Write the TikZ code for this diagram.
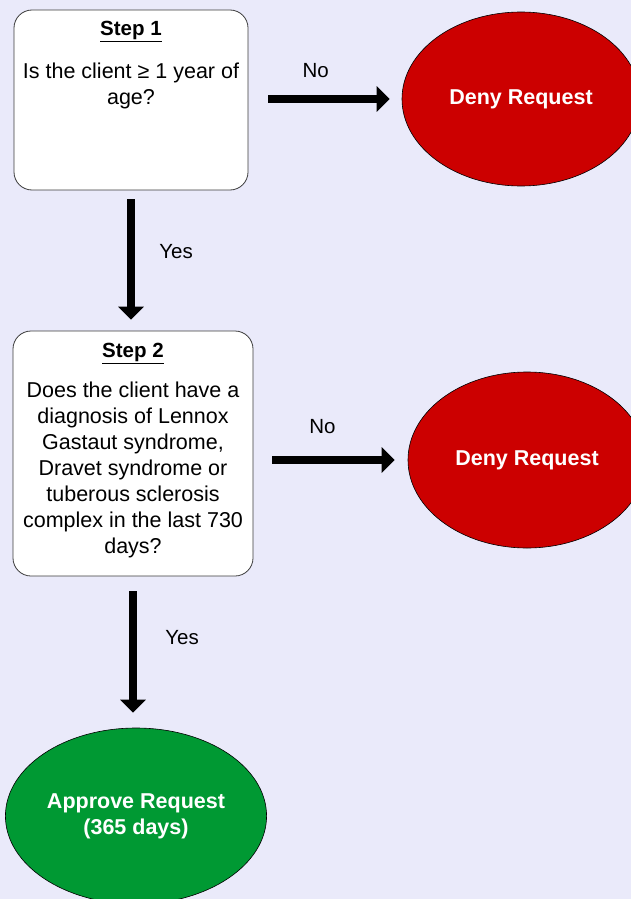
\documentclass[tikz,border=0pt]{standalone}
\usepackage{fontspec}
\setmainfont{Liberation Sans}
\usetikzlibrary{shapes.geometric, arrows.meta, positioning}
\definecolor{pagebg}{RGB}{234, 234, 250}
\definecolor{denyred}{RGB}{204, 0, 0}
\definecolor{approvegreen}{RGB}{0, 153, 51}
\definecolor{boxline}{RGB}{60, 60, 60}

\tikzset{
  stepbox/.style={draw=boxline, fill=white, rounded corners=18pt, line width=0.8pt},
  steptext/.style={anchor=north, align=center, inner sep=0pt, font=\fontsize{21.5}{26}\selectfont},
  outcome/.style={ellipse, draw=black, line width=0.6pt, text=white, font=\fontsize{21.5}{26}\selectfont\bfseries, align=center},
  bigarrow/.style={line width=8.7pt, -{Triangle[width=25pt, length=13pt]}},
  lbl/.style={font=\fontsize{20.5}{24}\selectfont, inner sep=0pt}
}

\begin{document}
\begin{tikzpicture}[x=1pt, y=-1pt]
  \useasboundingbox (0,0) rectangle (631,899);
  \fill[pagebg] (0,0) rectangle (631,899);

  % step 1
  \node[stepbox, minimum width=234pt, minimum height=180pt] (step1) at (131,100) {};
  \node[steptext] (q1) at (131,21) {\underline{\fontsize{20.5}{26}\selectfont\textbf{Step 1}}\\[17pt]
    Is the client ≥ 1 year of\\ age?};

  % step 2
  \node[stepbox, minimum width=240pt, minimum height=245pt] (step2) at (133,453.5) {};
  \node[steptext] (q2) at (133,343) {\underline{\fontsize{20.5}{26}\selectfont\textbf{Step 2}}\\[14pt]
    Does the client have a\\ diagnosis of Lennox\\ Gastaut syndrome,\\
    Dravet syndrome or\\ tuberous sclerosis\\ complex in the last 730\\ days?};

  % outcomes
  \node[outcome, fill=denyred, minimum width=238pt, minimum height=174pt] (deny1) at (521,99) {Deny Request};
  \node[outcome, fill=denyred, minimum width=238pt, minimum height=176pt] (deny2) at (527,460) {Deny Request};
  \node[outcome, fill=approvegreen, minimum width=258pt, minimum height=176pt] (approve) at (136,816) {Approve Request\\(365 days)};

  % arrows
  \draw[bigarrow] ([xshift=20pt]step1.east |- deny1.west) -- node[lbl, pos=0.39, above=17pt] {No} ([xshift=-12pt]deny1.west);
  \draw[bigarrow] ([xshift=19pt]step2.east |- deny2.west) -- node[lbl, pos=0.41, above=22pt] {No} ([xshift=-13pt]deny2.west);
  \draw[bigarrow] ([yshift=-9pt]step1.south) -- node[lbl, pos=0.43, right=24pt] {Yes} ([yshift=11pt]step1.south |- step2.north);
  \draw[bigarrow] ([yshift=-15pt]step2.south) -- node[lbl, pos=0.38, right=28pt] {Yes} ([yshift=15pt]step2.south |- approve.north);
\end{tikzpicture}
\end{document}
